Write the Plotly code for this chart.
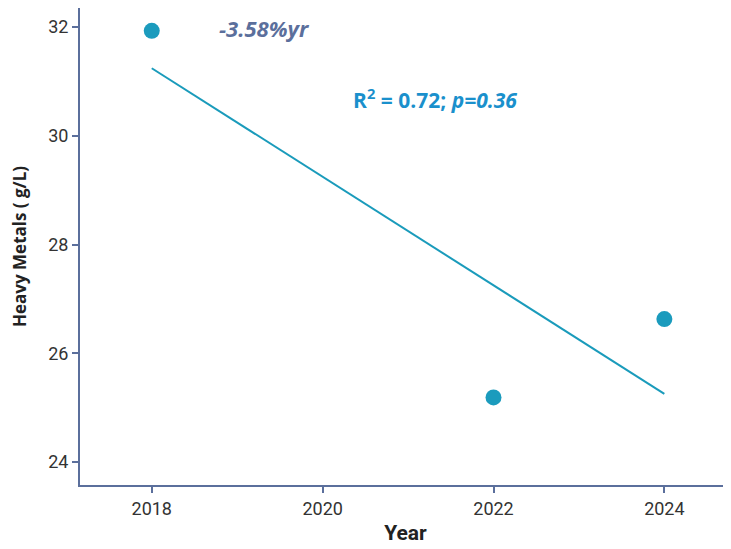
import numpy as np
import plotly.graph_objects as go

years = [2018, 2022, 2024]
metals = [31.93, 25.19, 26.63]
x_ticks = [2018, 2020, 2022, 2024]
y_ticks = [24, 26, 28, 30, 32]

slope, intercept = np.polyfit(years, metals, 1)
fit_x = [min(years), max(years)]
fit_y = [slope * v + intercept for v in fit_x]

axis_col = "#5b6f9c"
pt_col = "#1b9bbd"
tick_font = "Liberation Sans Narrow, Roboto, sans-serif"

fig = go.Figure()
fig.add_trace(go.Scatter(x=fit_x, y=fit_y, mode="lines",
                         line=dict(color="#1a9bbb", width=2), showlegend=False))
fig.add_trace(go.Scatter(x=years, y=metals, mode="markers",
                         marker=dict(color=pt_col, size=16), showlegend=False))

fig.add_annotation(x=2019.32, y=31.98, xref="x", yref="y", text="<b><i>-3.58%yr</i></b>",
                   showarrow=False, font=dict(family="Open Sans", size=22, color="#5b6f9c"))
fig.add_annotation(x=2021.31, y=30.69, xref="x", yref="y",
                   text="<b>R<sup>2</sup> = 0.72; <i>p=0.36</i></b>",
                   showarrow=False, font=dict(family="Open Sans", size=21, color="#1a90cc"))

fig.update_layout(
    width=723, height=541,
    margin=dict(l=72, r=0, t=0, b=64, pad=0, autoexpand=False),
    paper_bgcolor="white", plot_bgcolor="white",
    font=dict(family=tick_font, color="#333333"),
    xaxis=dict(range=[2017.16, 2024.78], tickvals=x_ticks, showgrid=False, zeroline=False,
               automargin=False,
               showline=True, linecolor=axis_col, linewidth=2, ticks="outside",
               tickcolor=axis_col, ticklen=6, tickwidth=2,
               tickfont=dict(family=tick_font, size=18, color="#333333"),
               title=dict(text="<b>Year</b>", font=dict(family=tick_font, size=21, color="#222222"), standoff=8)),
    yaxis=dict(range=[23.58, 32.35], tickvals=y_ticks, showgrid=False, zeroline=False,
               automargin=False,
               showline=True, linecolor=axis_col, linewidth=2, ticks="outside",
               tickcolor=axis_col, ticklen=6, tickwidth=2,
               tickfont=dict(family=tick_font, size=18, color="#333333"),
               title=dict(text="<b>Heavy Metals ( g/L)</b>", font=dict(family="Open Sans", size=17, color="#222222"), standoff=22)),
)

fig.write_html("out.html")
